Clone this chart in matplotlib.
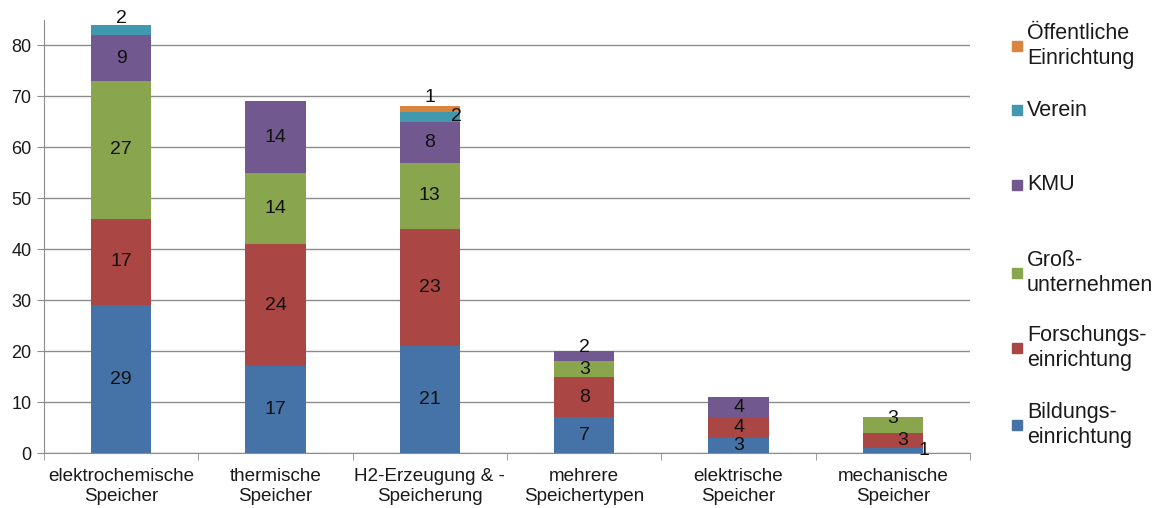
import numpy as np
import matplotlib.pyplot as plt
from matplotlib.patches import Rectangle

plt.rcParams['font.family'] = ['Liberation Sans', 'DejaVu Sans']

categories = ['elektrochemische\nSpeicher', 'thermische\nSpeicher', 'H2-Erzeugung & -\nSpeicherung',
              'mehrere\nSpeichertypen', 'elektrische\nSpeicher', 'mechanische\nSpeicher']

series_names = ['Bildungs-\neinrichtung', 'Forschungs-\neinrichtung', 'Groß-\nunternehmen',
                'KMU', 'Verein', 'Öffentliche\nEinrichtung']
bildung = [29, 17, 21, 7, 3, 1]
forschung = [17, 24, 23, 8, 4, 3]
gross = [27, 14, 13, 3, 0, 3]
kmu = [9, 14, 8, 2, 4, 0]
verein = [2, 0, 2, 0, 0, 0]
oeffentlich = [0, 0, 1, 0, 0, 0]

colors = ['#4572A7', '#AA4643', '#89A54E', '#71588F', '#4198AF', '#DB843D']

# label nudges (points) for labels that would collide on thin segments
nudge = {(0, 4): (0, 8), (2, 5): (0, 8), (2, 4): (19, 0), (3, 3): (0, 6),
         (5, 2): (0, 4.5), (5, 1): (7, 0), (5, 0): (22, 0)}

fig = plt.figure(figsize=(11.58, 5.08), dpi=100)
ax = fig.add_axes([0.038, 0.108, 0.7997, 0.853])

x = np.arange(len(categories))
data = [bildung, forschung, gross, kmu, verein, oeffentlich]
bottom = np.zeros(len(categories))
for s, vals in enumerate(data):
    vals = np.array(vals, dtype=float)
    ax.bar(x, vals, 0.39, bottom=bottom, color=colors[s], zorder=2)
    for i, v in enumerate(vals):
        if v > 0:
            dx, dy = nudge.get((i, s), (0, 0))
            ax.annotate(f'{int(v)}', (x[i], bottom[i] + v / 2), xytext=(dx, dy),
                        textcoords='offset points', ha='center', va='center',
                        fontsize=14, color='#111111', zorder=3)
    bottom += vals

ax.set_xlim(-0.5, len(categories) - 0.5)
ax.set_ylim(0, 85)
ax.set_yticks(range(0, 81, 10))
ax.yaxis.grid(True, color='#8c8c8c', linewidth=1)
ax.set_axisbelow(True)

ax.set_xticks(x)
ax.set_xticklabels(categories, fontsize=13.6, color='#1a1a1a')
ax.set_xticks(np.arange(-0.5, len(categories)), minor=True)
ax.tick_params(axis='x', which='major', length=0, pad=11)
ax.tick_params(axis='x', which='minor', length=5, color='#8c8c8c')
ax.tick_params(axis='y', length=5, color='#8c8c8c', labelsize=13, labelcolor='#1a1a1a', pad=4)

for side in ['top', 'right']:
    ax.spines[side].set_visible(False)
ax.spines['left'].set_color('#8c8c8c')
ax.spines['bottom'].set_color('#8c8c8c')

# legend drawn as a column on the right, top entry first
legend_y = [46, 110, 185, 273, 348, 425]
for name, col, yp in zip(series_names[::-1], colors[::-1], legend_y):
    yf = 1 - yp / 508
    fig.patches.append(Rectangle((1012 / 1158, yf - 5 / 508), 10 / 1158, 10 / 508,
                                 transform=fig.transFigure, color=col))
    fig.text(1027 / 1158, yf, name, fontsize=15.5, color='#1a1a1a', va='center',
             ha='left', linespacing=1.2)

fig.savefig('out.png', dpi=100)
